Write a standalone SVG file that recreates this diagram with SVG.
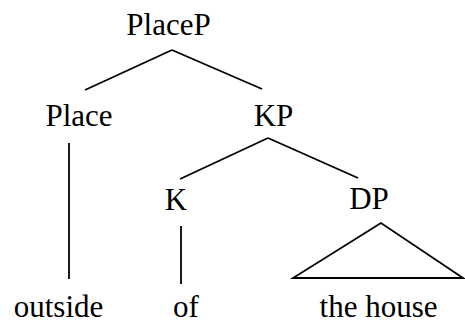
<svg xmlns="http://www.w3.org/2000/svg" width="465" height="322" viewBox="0 0 465 322">
  <style>
    .lbl { font-family: 'Liberation Serif', Tinos, 'Times New Roman', 'DejaVu Serif', serif; font-size: 31px; fill: #000; text-anchor: middle; }
    .edge { stroke: #000; stroke-width: 1.8; fill: none; stroke-linecap: butt; }
  </style>
  <rect width="465" height="322" fill="#fff"/>
  <g id="connectors">
    <line class="edge" x1="172" y1="50" x2="85" y2="90"/>
    <line class="edge" x1="172" y1="50" x2="262" y2="89"/>
    <line class="edge" x1="69" y1="143" x2="69" y2="279"/>
    <line class="edge" x1="268" y1="138" x2="180" y2="179"/>
    <line class="edge" x1="268" y1="138" x2="358" y2="178"/>
    <line class="edge" x1="181" y1="226" x2="181" y2="284"/>
    <polygon class="edge" points="381,223 293,278 463,278"/>
  </g>
  <g id="placeP"><text class="lbl" font-family="Liberation Serif, serif" x="168.5" y="35">PlaceP</text></g>
  <g id="place"><text class="lbl" font-family="Liberation Serif, serif" x="79" y="126">Place</text></g>
  <g id="kP"><text class="lbl" font-family="Liberation Serif, serif" x="273.5" y="126">KP</text></g>
  <g id="k"><text class="lbl" font-family="Liberation Serif, serif" x="176" y="210">K</text></g>
  <g id="dP"><text class="lbl" font-family="Liberation Serif, serif" x="369" y="209">DP</text></g>
  <g id="outside"><text class="lbl" font-family="Liberation Serif, serif" x="58.5" y="317">outside</text></g>
  <g id="of"><text class="lbl" font-family="Liberation Serif, serif" x="186" y="317">of</text></g>
  <g id="theHouse"><text class="lbl" font-family="Liberation Serif, serif" x="378.5" y="317">the house</text></g>
</svg>
